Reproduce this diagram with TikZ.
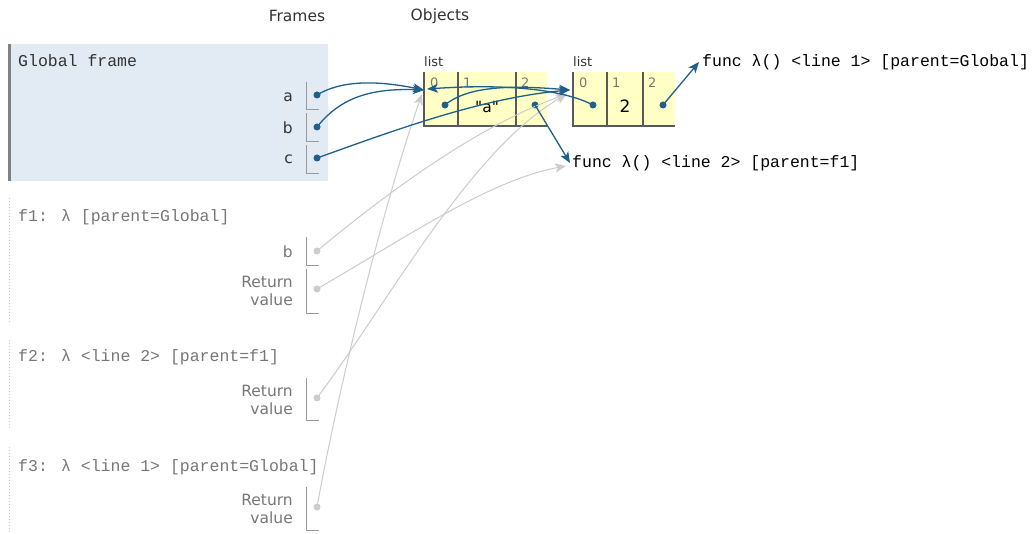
\documentclass[tikz,border=0pt]{standalone}
\usepackage{fontspec}
\setmainfont{DejaVu Sans}
\newfontfamily\codefont{Liberation Mono}
\newfontfamily\valfont[Ligatures=TeXOff]{DejaVu Sans}
\usetikzlibrary{arrows.meta}

\definecolor{linkblue}{HTML}{1F5F8B}
\definecolor{framebg}{HTML}{E2EAF4}
\definecolor{listbg}{HTML}{FFFFC6}
\definecolor{lightgrey}{HTML}{CCCCCC}
\definecolor{darktext}{HTML}{333333}
\definecolor{greytext}{HTML}{777777}

\tikzset{
  lbl/.style={font=\fontsize{15.5}{18.5}\selectfont, text=darktext, inner sep=0pt},
  smalllbl/.style={font=\fontsize{13}{15}\selectfont, inner sep=0pt},
  code/.style={font=\codefont\fontsize{16.5}{20}\selectfont, inner sep=0pt},
  ptr/.style={circle, fill=linkblue, inner sep=0pt, minimum size=7pt},
  deadptr/.style={circle, fill=lightgrey, inner sep=0pt, minimum size=7pt},
  link/.style={draw=linkblue, line width=1.3pt, -{Stealth[length=11pt,width=9pt,inset=3pt]}},
  deadlink/.style={draw=lightgrey, line width=1pt, -{Stealth[length=11pt,width=9pt,inset=3pt]}},
  slot/.style={draw=gray!80, line width=0.9pt},
  cell/.style={draw=black!65, line width=1.2pt},
}

\begin{document}
\begin{tikzpicture}[x=1pt, y=-1pt]
  \fill[white] (0,0) rectangle (1036,534);
  \useasboundingbox (0,0) rectangle (1036,534);

  % headings
  \node[lbl] (frames) at (297,16) {Frames};
  \node[lbl] (objects) at (440,16) {Objects};

  % global frame
  \fill[framebg] (8,44) rectangle (328,181);
  \draw[black!50, line width=3pt] (9.5,44) -- (9.5,181);
  \node[code, anchor=base west, text=darktext] (gtitle) at (18,67) {Global frame};
  \node[lbl, anchor=east] (la) at (293,97) {a};
  \node[lbl, anchor=east] (lb) at (293,128) {b};
  \node[lbl, anchor=east] (lc) at (293,159) {c};
  \draw[slot] (306,82) |- (319,109);
  \draw[slot] (306,113) |- (319,141);
  \draw[slot] (306,145) |- (319,173);
  \node[ptr] (pa) at (317,95) {};
  \node[ptr] (pb) at (317,127) {};
  \node[ptr] (pc) at (317,158) {};

  % f1 frame
  \draw[lightgrey, dotted, line width=1pt] (9.5,198) -- (9.5,322);
  \node[code, anchor=base west, text=greytext] (f1title) at (18,222) {f1: λ [parent=Global]};
  \node[lbl, anchor=east, text=greytext] (f1b) at (293,252) {b};
  \node[lbl, anchor=east, text=greytext, align=right] (f1ret) at (293,291) {Return\\value};
  \draw[slot] (306,237) |- (319,265);
  \draw[slot] (306,269) |- (319,313);
  \node[deadptr] (qb) at (317,251) {};
  \node[deadptr] (qr1) at (317,289) {};

  % f2 frame
  \draw[lightgrey, dotted, line width=1pt] (9.5,340) -- (9.5,430);
  \node[code, anchor=base west, text=greytext] (f2title) at (18,362) {f2: λ <line 2> [parent=f1]};
  \node[lbl, anchor=east, text=greytext, align=right] (f2ret) at (293,400) {Return\\value};
  \draw[slot] (306,378) |- (319,420);
  \node[deadptr] (qr2) at (317,398) {};

  % f3 frame
  \draw[lightgrey, dotted, line width=1pt] (9.5,447) -- (9.5,534);
  \node[code, anchor=base west, text=greytext] (f3title) at (18,471) {f3: λ <line 1> [parent=Global]};
  \node[lbl, anchor=east, text=greytext, align=right] (f3ret) at (293,509) {Return\\value};
  \draw[slot] (306,487) |- (319,530);
  \node[deadptr] (qr3) at (317,507) {};

  % first list
  \node[smalllbl, anchor=west, text=darktext] (list1) at (424,62) {list};
  \fill[listbg] (424,72) rectangle (547,126);
  \draw[cell] (424,72) -- (424,126) -- (547,126);
  \draw[cell] (458,72) -- (458,126);
  \draw[cell] (516,72) -- (516,126);
  \node[smalllbl, anchor=west, text=greytext] (i10) at (430,83) {0};
  \node[smalllbl, anchor=west, text=greytext] (i11) at (463,83) {1};
  \node[smalllbl, anchor=west, text=greytext] (i12) at (521,83) {2};
  \node[lbl, text=black, font=\valfont\fontsize{15.5}{18.5}\selectfont] (sa) at (487,107) {"a"};
  \node[ptr] (p10) at (445,105) {};
  \node[ptr] (p12) at (535,105) {};

  % second list
  \node[smalllbl, anchor=west, text=darktext] (list2) at (573,62) {list};
  \fill[listbg] (573,72) rectangle (675,126);
  \draw[cell] (573,72) -- (573,126) -- (675,126);
  \draw[cell] (607,72) -- (607,126);
  \draw[cell] (643,72) -- (643,126);
  \node[smalllbl, anchor=west, text=greytext] (i20) at (579,83) {0};
  \node[smalllbl, anchor=west, text=greytext] (i21) at (612,83) {1};
  \node[smalllbl, anchor=west, text=greytext] (i22) at (648,83) {2};
  \node[lbl, text=black, font=\fontsize{17}{20}\selectfont] (two) at (625,106) {2};
  \node[ptr] (p20) at (593,105) {};
  \node[ptr] (p22) at (663,105) {};

  % functions
  \node[code, anchor=west, text=black] (func1) at (702,62) {func λ() <line 1> [parent=Global]};
  \node[code, anchor=west, text=black] (func2) at (572,163) {func λ() <line 2> [parent=f1]};

  % arrow ends
  \coordinate (in1) at (424,90);
  \coordinate (in1r) at (427,89);
  \coordinate (in1g) at (422,94);
  \coordinate (in2) at (570,90);
  \coordinate (in2g) at (567,94);
  \coordinate (inf1) at (699,62);
  \coordinate (inf2) at (570,163);
  \coordinate (inf2g) at (566,166);

  % grey pointers from old frames
  \draw[deadlink] (qb.center) .. controls (390,190) and (480,125) .. (in2g);
  \draw[deadlink] (qr1.center) .. controls (410,235) and (490,180) .. (inf2g);
  \draw[deadlink] (qr2.center) .. controls (390,300) and (470,150) .. (in2g);
  \draw[deadlink] (qr3.center) .. controls (340,380) and (385,200) .. (in1g);

  % live pointers
  \draw[link] (pa.center) .. controls (345,78) and (385,82) .. (in1);
  \draw[link] (pb.center) .. controls (340,98) and (370,88) .. (in1);
  \draw[link] (pc.center) .. controls (390,132) and (480,98) .. (in2);
  \draw[link] (p10.center) .. controls (470,84) and (520,86) .. (in2);
  \draw[link] (p20.center) .. controls (560,88) and (500,84) .. (in1r);
  \draw[link] (p12.center) -- (inf2);
  \draw[link] (p22.center) -- (inf1);
\end{tikzpicture}
\end{document}
